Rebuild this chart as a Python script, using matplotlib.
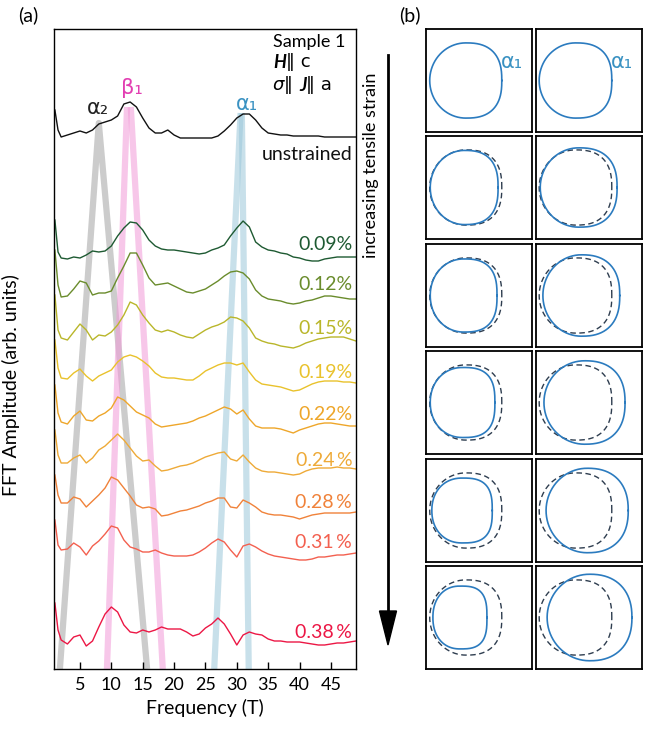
import numpy as np
import matplotlib
matplotlib.use("Agg")
import matplotlib.pyplot as plt
from matplotlib.patches import Polygon

plt.rcParams['font.family'] = ['Lato', 'DejaVu Sans']

# ---- panel (a): FFT spectra, stacked (arb. units) ----
freq = [1, 1.5, 2, 3, 4, 5, 6, 7, 8, 9, 10, 11, 12, 13, 14, 15, 16, 17, 18, 19,
        20, 21, 22, 23, 24, 25, 26, 27, 28, 29, 30, 31, 32, 33, 34, 35, 36, 37, 38, 39,
        40, 41, 42, 43, 44, 45, 46, 47, 48, 49]

unstrained = [559, 539, 532, 534, 536, 538, 536, 539, 545, 547, 549, 553, 565, 567, 562, 551, 541, 536, 536, 539,
              534, 531, 531, 531, 531, 531, 531, 533, 538, 544, 551, 555, 555, 549, 541, 536, 535, 534, 534, 533,
              533, 533, 533, 533, 532, 532, 532, 532, 532, 532]
s009 = [449, 417, 411, 410, 412, 411, 414, 418, 417, 418, 423, 433, 441, 447, 446, 439, 429, 423, 420, 419,
        419, 418, 417, 416, 415, 416, 419, 421, 424, 433, 441, 448, 442, 427, 422, 419, 418, 416, 415, 412,
        411, 409, 408, 408, 410, 411, 412, 412, 412, 412]
s012 = [419, 384, 372, 373, 380, 388, 386, 374, 376, 376, 378, 391, 403, 416, 416, 404, 391, 384, 385, 386,
        383, 380, 377, 376, 378, 380, 384, 388, 393, 397, 398, 396, 390, 379, 373, 370, 369, 368, 366, 365,
        366, 368, 369, 371, 373, 373, 372, 371, 370, 370]
s015 = [374, 339, 331, 329, 337, 345, 339, 329, 334, 333, 337, 344, 354, 367, 364, 354, 346, 339, 337, 339,
        337, 334, 332, 331, 335, 339, 342, 344, 347, 352, 351, 348, 341, 331, 328, 326, 325, 323, 322, 321,
        323, 326, 328, 330, 331, 332, 332, 332, 330, 328]
s019 = [329, 301, 291, 290, 296, 300, 293, 288, 293, 296, 299, 307, 312, 314, 312, 308, 303, 296, 292, 291,
        291, 290, 289, 289, 293, 298, 301, 304, 306, 306, 304, 306, 297, 289, 285, 284, 283, 282, 280, 278,
        279, 282, 285, 287, 288, 288, 288, 287, 287, 286]
s022 = [284, 256, 247, 245, 253, 258, 249, 248, 253, 256, 261, 272, 269, 263, 257, 254, 251, 245, 242, 243,
        244, 245, 246, 248, 251, 253, 256, 259, 262, 260, 255, 259, 250, 243, 241, 241, 241, 240, 238, 236,
        239, 241, 243, 245, 246, 246, 245, 244, 243, 243]
s024 = [239, 214, 206, 206, 211, 214, 206, 211, 219, 223, 229, 235, 229, 221, 213, 208, 209, 203, 198, 199,
        201, 203, 204, 206, 209, 212, 214, 216, 217, 210, 208, 214, 207, 201, 198, 197, 197, 196, 195, 194,
        195, 198, 200, 201, 201, 201, 202, 201, 201, 200]
s028 = [194, 174, 166, 166, 172, 170, 162, 168, 174, 181, 192, 189, 181, 173, 164, 161, 162, 160, 153, 154,
        156, 158, 159, 161, 163, 166, 168, 171, 171, 162, 161, 169, 166, 162, 157, 155, 154, 154, 153, 152,
        150, 152, 154, 155, 156, 156, 156, 156, 156, 157]
s031 = [149, 124, 119, 120, 126, 122, 114, 123, 128, 135, 143, 141, 129, 122, 120, 117, 117, 119, 116, 114,
        113, 113, 113, 114, 117, 121, 126, 130, 127, 119, 112, 123, 125, 122, 118, 115, 113, 112, 111, 110,
        109, 109, 110, 112, 112, 113, 114, 114, 115, 116]
s038 = [66, 39, 29, 25, 32, 34, 23, 28, 42, 55, 62, 57, 44, 37, 36, 39, 37, 39, 42, 40,
        40, 40, 37, 33, 35, 41, 45, 51, 45, 35, 24, 34, 37, 35, 34, 30, 28, 28, 27, 27,
        27, 26, 25, 24, 24, 25, 26, 26, 27, 28]

traces = [unstrained, s009, s012, s015, s019, s022, s024, s028, s031, s038]
labels = ['unstrained', '0.09%', '0.12%', '0.15%', '0.19%', '0.22%',
          '0.24\u2009%', '0.28\u2009%', '0.31\u2009%', '0.38\u2009%']
colors = ['#111111', '#1e5a32', '#6a8c2c', '#b9b62a', '#e9c22c', '#eea62a',
          '#eeaa38', '#f0823a', '#f3604f', '#ec1745']
label_y = [514, 424, 384, 341, 297, 254, 209, 167, 126, 37]

# peak tracking guides: (freq, amplitude) end points
gray_f, gray_a = [1.8, 8.0, 15.7], [0, 546, 0]
pink_l_f, pink_r_f, pink_a = [12.5, 9.3], [13.1, 18.2], [562, 0]
blue_l_f, blue_r_f, blue_a = [30.6, 26.4], [30.8, 31.9], [556, 0]

# ---- panel (b): alpha_1 Fermi-surface contours (k units) ----
c1_left = [-0.93, -0.92, -0.92, -0.92, -0.89, -0.87]
c1_right = [0.43, 0.36, 0.34, 0.30, 0.25, 0.15]
c1_half = [0.73, 0.72, 0.71, 0.68, 0.63, 0.61]
c1_nl = [2.0, 2.0, 2.05, 2.1, 2.15, 2.2]
c1_nr = [2.55, 2.6, 2.7, 2.8, 2.9, 3.0]
c2_left = [-0.94, -0.92, -0.87, -0.85, -0.81, -0.79]
c2_right = [0.43, 0.53, 0.58, 0.68, 0.74, 0.81]
c2_half = [0.73, 0.77, 0.79, 0.81, 0.82, 0.84]
c2_nl = [2.0, 2.0, 2.0, 2.0, 2.0, 2.0]
c2_nr = [2.55, 2.5, 2.45, 2.4, 2.35, 2.3]


def contour(left, right, half, nl, nr):
    t = np.linspace(0, 2 * np.pi, 400)
    c, s = np.cos(t), np.sin(t)
    n = np.where(c >= 0, nr, nl)
    x = (left + right) / 2 + (right - left) / 2 * np.sign(c) * np.abs(c) ** (2 / n)
    y = half * np.sign(s) * np.abs(s) ** (2 / n)
    return x, y


W, H = 667, 732
fig = plt.figure(figsize=(W / 100, H / 100), dpi=100)

ov = fig.add_axes([0, 0, 1, 1])
ov.set_xlim(0, W)
ov.set_ylim(H, 0)
ov.axis('off')
ov.text(28, 15, '(a)', fontsize=14, ha='center', va='center')
ov.text(410, 15, '(b)', fontsize=14, ha='center', va='center')
ov.plot([388, 388], [55, 615], color='k', lw=2.0)
ov.add_patch(Polygon([(379.5, 611), (396.5, 611), (388, 645)], closed=True, color='k'))
ov.text(371, 165, 'increasing tensile strain', rotation=90, fontsize=13,
        ha='center', va='center')

ax = fig.add_axes([54 / W, (H - 669) / H, 302 / W, 640 / H])
ax.plot(gray_f, gray_a, color='#9a9a9a', alpha=0.5, lw=4.5, solid_capstyle='butt', zorder=1)
for lf, rf, a, col in [(pink_l_f, pink_r_f, pink_a, '#f29ad8'),
                       (blue_l_f, blue_r_f, blue_a, '#9cc8da')]:
    ax.plot(lf, a, color=col, alpha=0.55, lw=4.5, solid_capstyle='butt', zorder=1)
    ax.plot(rf, a, color=col, alpha=0.55, lw=4.5, solid_capstyle='butt', zorder=1)

for tr, lab, col, ly in zip(traces, labels, colors, label_y):
    ax.plot(freq, tr, color=col, lw=1.0, zorder=2)
    ax.text(48.4, ly, lab, color=col, fontsize=14, ha='right', va='center')

greek = ['DejaVu Sans']
ax.text(7.9, 561, '\u03b1\u2082', fontsize=15, ha='center', va='center', color='#222222',
        family=greek)
ax.text(13.3, 581, '\u03b2\u2081', fontsize=15, ha='center', va='center', color='#e23fb2',
        family=greek)
ax.text(31.6, 565, '\u03b1\u2081', fontsize=15, ha='center', va='center', color='#3a92c2',
        family=greek)

# sample info
ax.text(0.725, 0.98, 'Sample 1', transform=ax.transAxes, fontsize=13, va='center')
t2 = ax.text(0.725, 0.947, 'H', transform=ax.transAxes, fontsize=13, va='center',
             fontweight='bold', fontstyle='italic')
ax.annotate('\u2016 c', xy=(1, 0), xycoords=t2, fontsize=13, va='bottom', family=greek)
t3 = ax.text(0.725, 0.9125, '\u03c3', transform=ax.transAxes, fontsize=13, va='center',
             fontstyle='italic', family=greek)
t4 = ax.annotate('\u2016 ', xy=(1, 0), xycoords=t3, fontsize=13, va='bottom', family=greek)
t5 = ax.annotate('J', xy=(1, 0), xycoords=t4, fontsize=13, va='bottom',
                 fontweight='bold', fontstyle='italic')
ax.annotate('\u2016 a', xy=(1, 0), xycoords=t5, fontsize=13, va='bottom', family=greek)

ax.set_xlim(0.86, 49.0)
ax.set_ylim(0, 640)
ax.set_xticks([5, 10, 15, 20, 25, 30, 35, 40, 45])
ax.set_yticks([])
ax.tick_params(axis='x', direction='in', length=5, width=1, labelsize=13, pad=6)
for sp in ax.spines.values():
    sp.set_linewidth(1.0)
ax.set_xlabel('Frequency (T)', fontsize=14, labelpad=4)
ax.set_ylabel('FFT Amplitude (arb. units)', fontsize=14)
ax.yaxis.set_label_coords(-0.113, 0.444)

# panel (b) grid
col_x = [426, 536]
row_y = [29, 136, 244, 351, 459, 566]
cols = [(c1_left, c1_right, c1_half, c1_nl, c1_nr),
        (c2_left, c2_right, c2_half, c2_nl, c2_nr)]
for j, (lft, rgt, hlf, nl, nr) in enumerate(cols):
    for i in range(6):
        b = fig.add_axes([col_x[j] / W, (H - row_y[i] - 103) / H, 106 / W, 103 / H])
        b.set_xlim(-1, 1)
        b.set_ylim(-1, 1)
        b.set_xticks([])
        b.set_yticks([])
        for sp in b.spines.values():
            sp.set_linewidth(1.3)
        if i > 0:
            x0, y0 = contour(lft[0], rgt[0], hlf[0], nl[0], nr[0])
            b.plot(x0, y0, color='#2e3d4f', lw=1.0, ls=(0, (4, 2.5)))
        x, y = contour(lft[i], rgt[i], hlf[i], nl[i], nr[i])
        b.plot(x, y, color='#2b7bbf', lw=1.2)
        if i == 0:
            b.text(0.62, 0.35, '\u03b1\u2081', fontsize=15, color='#3a92c2',
                   ha='center', va='center', family=greek)

fig.savefig('out.png', dpi=100)
